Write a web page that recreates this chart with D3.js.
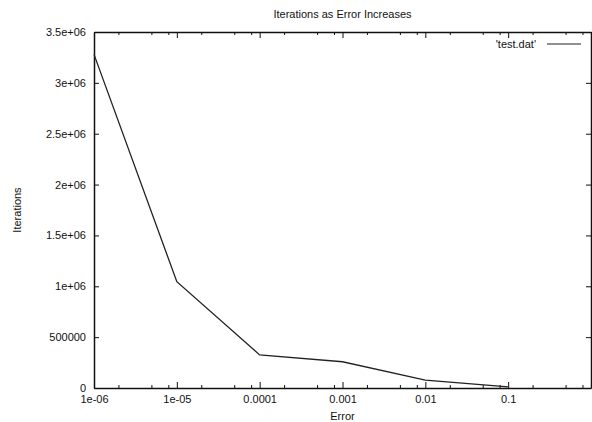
<!DOCTYPE html>
<html>
<head>
<meta charset="utf-8">
<script src="https://cdn.jsdelivr.net/npm/d3@7"></script>
<style>
  body { margin: 0; background: #fff; }
  text { font-family: "Liberation Sans", Arial, sans-serif; fill: #111; }
</style>
</head>
<body>
<script>
var W = 592, H = 422
var margin = {top: 32, right: 1, bottom: 34, left: 94}
var width = W - margin.left - margin.right
var height = H - margin.top - margin.bottom

// data
var errors = [1e-6, 1e-5, 1e-4, 1e-3, 1e-2, 1e-1]
var iterations = [3280000, 1045000, 325000, 258000, 78000, 12000]
var xTicks = [1e-6, 1e-5, 1e-4, 1e-3, 1e-2, 1e-1, 1]
var xTickLabels = ["1e-06", "1e-05", "0.0001", "0.001", "0.01", "0.1", ""]
var yTicks = [0, 500000, 1000000, 1500000, 2000000, 2500000, 3000000, 3500000]
var yTickLabels = ["0", "500000", "1e+06", "1.5e+06", "2e+06", "2.5e+06", "3e+06", "3.5e+06"]
var minorSteps = [2, 5, 8]

var x = d3.scaleLog().domain([1e-6, 1]).range([0, width])
var y = d3.scaleLinear().domain([0, 3500000]).range([height, 0])

var svg = d3.select("body").append("svg")
    .attr("width", W)
    .attr("height", H)
  .append("g")
    .attr("transform", "translate(" + margin.left + "," + margin.top + ")")

// minor ticks on bottom and top
var minor = []
xTicks.slice(0, -1).forEach(function(t) {
  minorSteps.forEach(function(m) { minor.push(t * m) })
})

svg.selectAll(".minor-b").data(minor).enter().append("line")
    .attr("x1", x).attr("x2", x)
    .attr("y1", height).attr("y2", height - 3)
    .attr("stroke", "#111").attr("stroke-width", 1)
svg.selectAll(".minor-t").data(minor).enter().append("line")
    .attr("x1", x).attr("x2", x)
    .attr("y1", 0).attr("y2", 3)
    .attr("stroke", "#111").attr("stroke-width", 1)

// bottom axis
var xAxis = d3.axisBottom(x)
    .tickValues(xTicks)
    .tickSizeInner(-6).tickSizeOuter(0).tickPadding(7)
    .tickFormat(function(d, i) { return xTickLabels[i] })
svg.append("g").attr("transform", "translate(0," + height + ")").call(xAxis)

// top mirror
svg.append("g").call(d3.axisTop(x).tickValues(xTicks).tickSizeInner(-6).tickSizeOuter(0).tickFormat(""))

// left axis
var yAxis = d3.axisLeft(y)
    .tickValues(yTicks)
    .tickSizeInner(-5).tickSizeOuter(0).tickPadding(8)
    .tickFormat(function(d, i) { return yTickLabels[i] })
svg.append("g").call(yAxis)

// right mirror
svg.append("g").attr("transform", "translate(" + width + ",0)")
    .call(d3.axisRight(y).tickValues(yTicks).tickSizeInner(-5).tickSizeOuter(0).tickFormat(""))

svg.selectAll(".domain").attr("stroke", "#111").attr("stroke-width", 1.5)
svg.selectAll(".tick line").attr("stroke", "#111").attr("stroke-width", 1)
svg.selectAll(".tick text")
    .style("font-family", "'Liberation Sans', Arial, sans-serif")
    .style("font-size", "11px")
    .attr("fill", "#111")

// the data line
var line = d3.line()
    .x(function(d, i) { return x(errors[i]) })
    .y(function(d) { return y(d) })

svg.append("path")
    .datum(iterations)
    .attr("fill", "none")
    .attr("stroke", "#222")
    .attr("stroke-width", 1.3)
    .attr("d", line)

// key
svg.append("text")
    .attr("x", 442).attr("y", 16)
    .attr("text-anchor", "end")
    .style("font-size", "11px")
    .text("'test.dat'")
svg.append("line")
    .attr("x1", 453).attr("x2", 487)
    .attr("y1", 12).attr("y2", 12)
    .attr("stroke", "#222").attr("stroke-width", 1.2)

// title and labels
svg.append("text")
    .attr("x", width / 2).attr("y", -14)
    .attr("text-anchor", "middle")
    .style("font-size", "11px")
    .text("Iterations as Error Increases")

svg.append("text")
    .attr("x", width / 2).attr("y", height + 32)
    .attr("text-anchor", "middle")
    .style("font-size", "11px")
    .text("Error")

svg.append("text")
    .attr("transform", "translate(" + (-73) + "," + (height / 2) + ") rotate(-90)")
    .attr("text-anchor", "middle")
    .style("font-size", "11px")
    .text("Iterations")
</script>
</body>
</html>
